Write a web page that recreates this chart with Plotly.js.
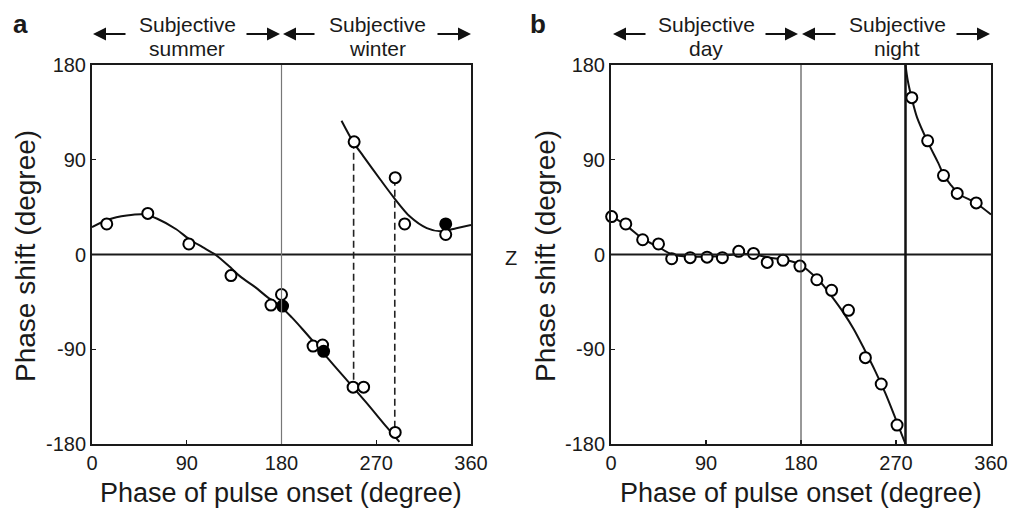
<!DOCTYPE html>
<html>
<head>
<meta charset="utf-8">
<script src="https://cdn.plot.ly/plotly-3.0.1.min.js"></script>
<style>html,body{margin:0;padding:0;background:#fff;}#chart{width:1016px;height:515px;}</style>
</head>
<body>
<div id="chart"></div>
<script>
// ---- Panel a data ----
const aOpenX = [14, 53, 92, 132, 170, 180, 210, 219, 248, 258, 288, 249, 288, 297, 336];
const aOpenY = [29, 39, 10, -20, -48, -38, -87, -86, -126, -126, -169, 107, 73, 29, 19];
const aFilledX = [181, 220, 336];
const aFilledY = [-49, -92, 29];
const aCurve1X = [0, 15, 33, 50, 62, 80, 93, 105, 117, 130, 141, 155, 166, 180, 190, 200, 220, 240, 260, 280, 292];
const aCurve1Y = [26, 33, 37, 38, 34, 24, 14, 7, 0, -11, -21, -31, -40, -50, -60, -71, -94, -117, -140, -164, -178];
const aCurve2X = [237, 248, 258, 274, 286, 302, 318, 331, 346, 360];
const aCurve2Y = [127, 107, 93, 71, 55, 36, 25, 22, 25, 28];
const aDash1X = [248.5, 248.5], aDash1Y = [107, -126];
const aDash2X = [287.6, 287.6], aDash2Y = [72, -169];

// ---- Panel b data ----
const bOpenX = [0.6, 14, 30, 45, 57.5, 75, 91, 105.5, 121, 135, 148, 163, 179, 195, 209, 225, 241, 256, 271, 285, 300, 315, 328, 346];
const bOpenY = [36, 29, 14, 10, -4, -3, -2.5, -3, 3, 1, -7.5, -5.5, -11, -24, -34, -53, -98, -123, -162, 149, 108, 75, 58, 49];
const bCurve1X = [0, 15, 30, 45, 58, 75, 90, 105, 120, 135, 150, 165, 180, 190, 200, 210, 220, 230, 240, 250, 260, 270, 279];
const bCurve1Y = [37, 27, 15, 7, 0, -2, -2, -1.5, 0.5, 0, -3, -5, -10, -18, -28, -41, -55, -71, -90, -110, -132, -157, -180];
const bCurve2X = [279, 281, 285, 290, 300, 310, 315, 322, 330, 340, 347, 360];
const bCurve2Y = [180, 166, 148, 130, 107, 87, 76, 66, 57, 52, 48, 38];
const bBreak = 279;

// ---- Tick labels / text ----
const xTicks = [0, 90, 180, 270, 360];
const yTicks = [-180, -90, 0, 90, 180];
const xTitle = 'Phase of pulse onset (degree)';
const yTitle = 'Phase shift (degree)';

const FONT = 'Liberation Sans, Arial, Helvetica, sans-serif';
const W = 1016, H = 515;
const px = v => v / W, py = v => 1 - v / H;

function curve(x, y, xa, ya) {
  return {x, y, xaxis: xa, yaxis: ya, mode: 'lines', type: 'scatter',
    line: {color: '#111', width: 2, shape: 'spline', smoothing: 0.8}, hoverinfo: 'skip', showlegend: false};
}
function dashed(x, y, xa, ya) {
  return {x, y, xaxis: xa, yaxis: ya, mode: 'lines', type: 'scatter',
    line: {color: '#222', width: 1.6, dash: '7px,4px'}, hoverinfo: 'skip', showlegend: false};
}
function pts(x, y, xa, ya, filled) {
  return {x, y, xaxis: xa, yaxis: ya, mode: 'markers', type: 'scatter', cliponaxis: false,
    marker: {size: 11, color: filled ? '#000' : '#fff', line: {color: '#000', width: 2}}, showlegend: false};
}

const data = [
  dashed(aDash1X, aDash1Y, 'x', 'y'),
  dashed(aDash2X, aDash2Y, 'x', 'y'),
  curve(aCurve1X, aCurve1Y, 'x', 'y'),
  curve(aCurve2X, aCurve2Y, 'x', 'y'),
  pts(aOpenX, aOpenY, 'x', 'y', false),
  pts(aFilledX, aFilledY, 'x', 'y', true),
  curve(bCurve1X, bCurve1Y, 'x2', 'y2'),
  curve(bCurve2X, bCurve2Y, 'x2', 'y2'),
  pts(bOpenX, bOpenY, 'x2', 'y2', false)
];

const axBase = {
  showgrid: false, zeroline: false, showline: true, mirror: true, linecolor: '#1a1a1a', linewidth: 2,
  ticks: 'inside', ticklen: 4, tickwidth: 1.2, tickcolor: '#1a1a1a',
  tickfont: {family: FONT, size: 20, color: '#1a1a1a'}, fixedrange: true
};
const xA = Object.assign({}, axBase, {range: [0, 360], tickvals: xTicks, ticktext: xTicks.map(String)});
const yA = Object.assign({}, axBase, {range: [-180, 180], tickvals: yTicks, ticktext: yTicks.map(String), domain: [py(444), py(65)]});

const layout = {
  width: W, height: H,
  margin: {l: 0, r: 0, t: 0, b: 0},
  paper_bgcolor: '#fff', plot_bgcolor: '#fff',
  font: {family: FONT, color: '#1a1a1a'},
  xaxis: Object.assign({}, xA, {domain: [px(92), px(471)], anchor: 'y'}),
  yaxis: Object.assign({}, yA, {anchor: 'x'}),
  xaxis2: Object.assign({}, xA, {domain: [px(611), px(991)], anchor: 'y2'}),
  yaxis2: Object.assign({}, yA, {anchor: 'x2'}),
  shapes: [
    {type: 'line', xref: 'x', yref: 'y', x0: 0, x1: 360, y0: 0, y1: 0, line: {color: '#1a1a1a', width: 2}},
    {type: 'line', xref: 'x', yref: 'y', x0: 180, x1: 180, y0: -180, y1: 180, line: {color: '#777', width: 1.2}},
    {type: 'line', xref: 'x2', yref: 'y2', x0: 0, x1: 360, y0: 0, y1: 0, line: {color: '#1a1a1a', width: 2}},
    {type: 'line', xref: 'x2', yref: 'y2', x0: 180, x1: 180, y0: -180, y1: 180, line: {color: '#333', width: 1}},
    {type: 'line', xref: 'x2', yref: 'y2', x0: bBreak, x1: bBreak, y0: -180, y1: 180, line: {color: '#111', width: 2.5}}
  ],
  annotations: []
};

const ann = layout.annotations;
function txt(text, x, y, size, opts) {
  ann.push(Object.assign({text, xref: 'paper', yref: 'paper', x: px(x), y: py(y), xanchor: 'center', yanchor: 'middle',
    showarrow: false, font: {family: FONT, size, color: '#1a1a1a'}}, opts || {}));
}
function arrow(head, tail, y) {
  ann.push({text: '', xref: 'paper', yref: 'paper', x: px(head), y: py(y), ax: tail - head, ay: 0,
    showarrow: true, arrowhead: 2, arrowsize: 1.3, arrowwidth: 2, arrowcolor: '#111', standoff: 0, startstandoff: 0});
}

// panel letters
txt('<b>a</b>', 20, 24, 26);
txt('<b>b</b>', 538, 24, 26);
// header labels
txt('Subjective', 187, 25, 21); txt('summer', 187, 48, 21);
txt('Subjective', 377, 25, 21); txt('winter', 377, 48, 21);
txt('Subjective', 706, 25, 21); txt('day', 706, 48, 21);
txt('Subjective', 897, 25, 21); txt('night', 897, 48, 21);
arrow(93, 127, 34); arrow(280, 245, 34); arrow(283, 316, 34); arrow(471, 436, 34);
arrow(613, 647, 34); arrow(798, 764, 34); arrow(802, 837, 34); arrow(990, 955, 34);
// axis titles
txt(xTitle, 281, 493, 27);
txt(xTitle, 801, 493, 27);
txt(yTitle, 25, 256, 28, {textangle: -90});
txt(yTitle, 545, 256, 28, {textangle: -90});
// stray label between panels
txt('Z', 511, 258, 20);

Plotly.newPlot('chart', data, layout, {displayModeBar: false, staticPlot: true});
</script>
</body>
</html>
